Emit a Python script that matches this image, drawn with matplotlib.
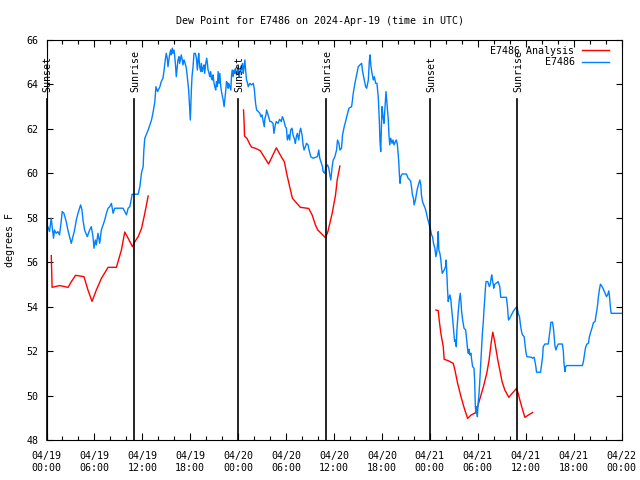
import matplotlib
matplotlib.use("Agg")
import matplotlib.pyplot as plt
import matplotlib.transforms as mtransforms

# hours since 2024-04-19 00:00 UTC, dew point in degrees F
obs = [
    (0.17, 57.60), (0.38, 57.38), (0.59, 57.98), (0.71, 57.60), (0.88, 57.08), (1.00, 57.45),
    (1.21, 57.30), (1.42, 57.38), (1.63, 57.23), (1.84, 57.83), (1.97, 58.28), (2.18, 58.20),
    (2.47, 57.83), (2.68, 57.45), (2.89, 57.15), (3.10, 56.85), (3.31, 57.15), (3.52, 57.45),
    (3.73, 57.90), (3.94, 58.20), (4.27, 58.58), (4.44, 58.35), (4.57, 57.90), (4.77, 57.45),
    (5.11, 57.15), (5.40, 57.45), (5.61, 57.60), (5.82, 57.15), (5.95, 56.63), (6.12, 57.00),
    (6.24, 56.78), (6.45, 57.30), (6.66, 56.85), (6.87, 57.45), (7.08, 57.68), (7.29, 57.90),
    (7.50, 58.20), (7.71, 58.43), (7.92, 58.50), (8.13, 58.65), (8.34, 58.20), (8.54, 58.43),
    (8.96, 58.43), (9.59, 58.43), (9.80, 58.28), (10.01, 58.13), (10.22, 58.43), (10.43, 58.50),
    (10.64, 58.88), (10.72, 59.06), (11.48, 59.06), (11.69, 59.40), (11.90, 60.03), (12.10, 60.30),
    (12.19, 61.05), (12.31, 61.58), (12.73, 61.95), (13.15, 62.40), (13.36, 62.78), (13.57, 63.23),
    (13.70, 63.90), (13.91, 63.68), (14.20, 63.90),
    (14.37, 64.13), (14.58, 64.28), (14.70, 64.58), (14.87, 65.10), (15.00, 65.40), (15.12, 65.18),
    (15.21, 64.80), (15.33, 65.10), (15.41, 65.33), (15.54, 65.55), (15.62, 65.33), (15.75, 65.63),
    (15.83, 65.40), (15.96, 65.55), (16.04, 65.33), (16.17, 64.80), (16.25, 64.35), (16.38, 64.80),
    (16.46, 65.10), (16.59, 65.25), (16.67, 64.95), (16.80, 65.18), (16.88, 65.33), (17.00, 65.10),
    (17.09, 64.88), (17.21, 65.10), (17.30, 65.03), (17.51, 64.73), (17.63, 64.35), (17.80, 63.75),
    (17.93, 62.93), (18.01, 62.40), (18.14, 63.75), (18.22, 64.35), (18.35, 64.80), (18.47, 65.40),
    (18.64, 65.40), (18.77, 65.18), (18.89, 64.65), (18.98, 65.10), (19.06, 65.40), (19.18, 64.80),
    (19.31, 64.58), (19.39, 64.95), (19.52, 64.58), (19.60, 64.73), (19.73, 64.88), (19.81, 64.50),
    (19.94, 64.95), (20.06, 65.18), (20.15, 64.95), (20.23, 64.65), (20.36, 64.50), (20.44, 64.35),
    (20.56, 64.58), (20.65, 64.28), (20.77, 64.20), (20.86, 64.43), (20.98, 64.05), (21.07, 63.90),
    (21.19, 63.75), (21.28, 64.13), (21.40, 63.90), (21.49, 64.58), (21.61, 64.05), (21.70, 64.50),
    (21.82, 63.90), (21.91, 63.68), (22.03, 63.45), (22.12, 63.30), (22.24, 63.00), (22.33, 63.30),
    (22.41, 63.60), (22.54, 64.13), (22.66, 64.05), (22.75, 63.83), (22.83, 64.05), (22.96, 63.90),
    (23.08, 63.75), (23.16, 64.35), (23.25, 64.65), (23.37, 64.35), (23.50, 64.65), (23.58, 64.50),
    (23.67, 64.73), (23.79, 64.43), (23.92, 64.50), (24.00, 64.80), (24.13, 64.35), (24.21, 64.50),
    (24.34, 64.80), (24.42, 64.65), (24.55, 64.95), (24.63, 64.50), (24.72, 64.73), (24.84, 65.10),
    (24.93, 64.65), (25.05, 64.20), (25.18, 64.05), (25.26, 63.90), (25.47, 64.05), (25.68, 63.98),
    (25.89, 64.05), (26.01, 63.83), (26.10, 63.45), (26.18, 63.15), (26.31, 62.85), (26.52, 62.78),
    (26.72, 62.70), (26.85, 62.55), (26.97, 62.63), (27.10, 62.40), (27.27, 62.10), (27.35, 62.48),
    (27.48, 62.63), (27.56, 62.85), (27.69, 62.70), (27.86, 62.48), (27.98, 62.33),
    (28.15, 62.33), (28.36, 62.25), (28.48, 61.80), (28.65, 62.18), (28.78, 62.33), (28.99, 62.25),
    (29.19, 62.43), (29.40, 62.33), (29.53, 62.55), (29.70, 62.40), (29.91, 62.10), (30.04, 62.03),
    (30.16, 61.50), (30.33, 61.73), (30.45, 61.50), (30.57, 61.95), (30.74, 62.03), (30.87, 61.73),
    (31.08, 61.50), (31.16, 61.35), (31.29, 61.65), (31.41, 61.80), (31.58, 61.50), (31.71, 61.88),
    (31.83, 62.03), (32.00, 61.73), (32.13, 61.28), (32.25, 61.05), (32.42, 61.20), (32.55, 61.35),
    (32.75, 61.28), (32.88, 61.05), (33.09, 60.75), (33.38, 60.68), (33.67, 60.72), (33.93, 60.75),
    (34.09, 61.05), (34.22, 60.68), (34.43, 60.45), (34.56, 60.30), (34.64, 60.08), (34.85, 60.00),
    (34.98, 60.30), (35.19, 60.38), (35.35, 60.23), (35.48, 59.93), (35.60, 59.70), (35.77, 60.30),
    (35.90, 60.60), (36.11, 60.75), (36.32, 61.05), (36.44, 61.50), (36.61, 61.35), (36.74, 61.05),
    (36.94, 61.13), (37.07, 61.73), (37.28, 62.10), (37.45, 62.33), (37.70, 62.70), (37.87, 62.93),
    (38.20, 63.00), (38.29, 63.23), (38.41, 63.60), (38.62, 64.05), (38.83, 64.43), (39.04, 64.80),
    (39.25, 64.88), (39.46, 64.95), (39.58, 64.58), (39.79, 64.20), (39.96, 63.90), (40.09, 63.83),
    (40.30, 64.20), (40.42, 65.03), (40.51, 65.33), (40.63, 64.80), (40.80, 64.43), (40.92, 64.20),
    (41.05, 64.35), (41.22, 64.05), (41.38, 64.05), (41.55, 63.38), (41.68, 62.33), (41.76, 61.43),
    (41.85, 60.98), (41.93, 61.95), (42.01, 63.00), (42.14, 62.55), (42.26, 62.25), (42.39, 63.00),
    (42.51, 63.68),
    (42.80, 62.40), (42.88, 61.73), (42.98, 61.28), (43.10, 61.58), (43.27, 61.35), (43.39, 61.50),
    (43.52, 61.28), (43.69, 61.43), (43.81, 61.50), (43.94, 61.28), (44.02, 60.90), (44.11, 60.53),
    (44.19, 59.93), (44.27, 59.55), (44.36, 59.85), (44.53, 59.97), (45.07, 59.97), (45.28, 59.78),
    (45.49, 59.70), (45.61, 59.63), (45.70, 59.40), (45.82, 59.03), (45.95, 58.88), (46.03, 58.58),
    (46.20, 58.80), (46.33, 59.10), (46.45, 59.33), (46.62, 59.55), (46.75, 59.70), (46.87, 59.48),
    (46.95, 59.03), (47.08, 58.73), (47.29, 58.53), (47.46, 58.38), (47.58, 58.20), (47.71, 57.98),
    (47.88, 57.75), (48.05, 57.53), (48.21, 57.23), (48.34, 57.15), (48.46, 56.85), (48.63, 56.63),
    (48.76, 56.25), (48.88, 56.48), (48.97, 56.85), (49.05, 57.38), (49.13, 56.55), (49.26, 56.40),
    (49.38, 56.10), (49.47, 55.73), (49.55, 55.50), (49.68, 55.58), (49.80, 55.65), (49.97, 55.80),
    (50.05, 56.10), (50.14, 55.35), (50.22, 54.75), (50.30, 54.23), (50.39, 54.38), (50.51, 54.53),
    (50.64, 54.30), (50.72, 53.93), (50.85, 53.48), (50.97, 52.95), (51.10, 52.43), (51.23, 52.50),
    (51.31, 52.20), (51.39, 52.95), (51.48, 53.40), (51.56, 53.78), (51.69, 54.30), (51.81, 54.60),
    (51.90, 54.23), (51.98, 53.78), (52.11, 53.40), (52.28, 53.03), (52.49, 52.95), (52.61, 52.50),
    (52.74, 52.05), (52.82, 51.90), (52.90, 52.08), (53.03, 51.83), (53.15, 51.90), (53.24, 51.60),
    (53.36, 51.30), (53.53, 51.23), (53.61, 50.70), (53.70, 49.50), (53.78, 49.20), (53.87, 49.50),
    (53.95, 49.05), (54.03, 49.58), (54.16, 50.10), (54.24, 50.55), (54.33, 51.15), (54.41, 51.60),
    (54.50, 52.35), (54.58, 52.80), (54.71, 53.40), (54.79, 53.93), (54.87, 54.30), (54.96, 54.83),
    (55.04, 55.13), (55.25, 55.13), (55.38, 54.98), (55.46, 54.90), (55.59, 55.05), (55.67, 55.28),
    (55.75, 55.43), (55.84, 55.20), (55.92, 55.05), (56.00, 54.83), (56.09, 54.98), (56.26, 55.05),
    (56.42, 55.08),
    (56.55, 55.13), (56.76, 54.90), (56.88, 54.42), (57.59, 54.42), (57.72, 54.00), (57.85, 53.40),
    (58.01, 53.48), (58.22, 53.63), (58.43, 53.78), (58.73, 53.93), (58.93, 54.00), (59.06, 53.70),
    (59.23, 53.55), (59.35, 53.18), (59.48, 52.88), (59.60, 52.73), (59.81, 52.65), (59.90, 52.35),
    (60.02, 51.98), (60.15, 51.75), (60.74, 51.72), (60.86, 51.68), (61.07, 51.72), (61.15, 51.57),
    (61.28, 51.30), (61.36, 51.05), (61.87, 51.05), (61.99, 51.38), (62.12, 51.75), (62.20, 52.20),
    (62.41, 52.32), (62.83, 52.32), (62.95, 52.65), (63.08, 53.03), (63.16, 53.30), (63.37, 53.30),
    (63.50, 52.95), (63.58, 52.61), (63.67, 52.23), (63.79, 52.05), (63.92, 52.20), (64.09, 52.32),
    (64.59, 52.32), (64.72, 51.98), (64.80, 51.45), (64.92, 51.08), (65.01, 51.30), (65.13, 51.35),
    (67.10, 51.35), (67.23, 51.53), (67.35, 51.83), (67.48, 52.13), (67.65, 52.31), (67.86, 52.35),
    (67.98, 52.65), (68.19, 52.91), (68.36, 53.10), (68.48, 53.28), (68.69, 53.33), (68.82, 53.63),
    (68.95, 53.93), (69.03, 54.15), (69.11, 54.45), (69.24, 54.78), (69.36, 55.01), (69.53, 54.93),
    (69.74, 54.78), (69.95, 54.60), (70.12, 54.45), (70.29, 54.56), (70.41, 54.71), (70.50, 54.45),
    (70.62, 53.93), (70.71, 53.70), (72.00, 53.70),
]

analysis_day1 = [
    (0.60, 56.30), (0.70, 54.87), (1.65, 54.95), (2.70, 54.87), (3.10, 55.12), (3.64, 55.41),
    (4.69, 55.35), (5.19, 54.75), (5.70, 54.24), (6.24, 54.75), (6.87, 55.27), (7.71, 55.77),
    (8.75, 55.77), (9.38, 56.55), (9.80, 57.36), (10.22, 57.08), (10.77, 56.70), (11.06, 56.92),
    (11.48, 57.15), (11.90, 57.52), (12.31, 58.20), (12.73, 58.98),
]
analysis_day2 = [
    (24.67, 62.85), (24.75, 62.25), (24.79, 61.68), (25.09, 61.58), (25.51, 61.27), (25.72, 61.17),
    (26.14, 61.13), (26.77, 61.02), (27.18, 60.78), (27.81, 60.42), (28.78, 61.15), (29.28, 60.82),
    (29.78, 60.52), (30.12, 59.92), (30.45, 59.40), (30.79, 58.88), (31.17, 58.72), (31.79, 58.47),
    (32.84, 58.42), (33.26, 58.13), (33.68, 57.67), (33.97, 57.45), (34.39, 57.30), (34.93, 57.10),
    (35.23, 57.37), (35.77, 58.20), (36.19, 59.02), (36.40, 59.70), (36.74, 60.33),
]
analysis_day3 = [
    (48.76, 53.85), (49.05, 53.82), (49.17, 53.40), (49.38, 52.80), (49.68, 52.20), (49.80, 51.63),
    (50.30, 51.57), (50.93, 51.45), (51.14, 51.15), (51.48, 50.55), (51.90, 49.95), (52.32, 49.42),
    (52.73, 48.97), (53.15, 49.12), (53.57, 49.20), (53.87, 49.27), (53.99, 49.50), (54.29, 49.88),
    (54.71, 50.40), (55.13, 51.00), (55.42, 51.60), (55.67, 52.35), (55.88, 52.85), (56.09, 52.50),
    (56.30, 52.05), (56.51, 51.60), (56.76, 51.15), (57.05, 50.62), (57.39, 50.25), (57.89, 49.92),
    (58.31, 50.10), (58.85, 50.32), (59.06, 50.10), (59.27, 49.80), (59.57, 49.42), (59.90, 49.02),
    (60.32, 49.12), (60.87, 49.24),
]

sunsets = [0.0, 24.02, 48.06]
sunrises = [10.99, 34.96, 58.95]

tick_hours = list(range(0, 73, 6))
tick_labels = ["04/19\n00:00", "04/19\n06:00", "04/19\n12:00", "04/19\n18:00",
               "04/20\n00:00", "04/20\n06:00", "04/20\n12:00", "04/20\n18:00",
               "04/21\n00:00", "04/21\n06:00", "04/21\n12:00", "04/21\n18:00",
               "04/22\n00:00"]

plt.rcParams['font.family'] = ['DejaVu Sans Mono']
plt.rcParams['font.size'] = 7.2

fig = plt.figure(figsize=(6.4, 4.8), dpi=100)
ax = fig.add_axes([46.5 / 640, 40 / 480, 575 / 640, 400 / 480])

red = '#ff0000'
blue = '#0080ff'

for i, seg in enumerate([analysis_day1, analysis_day2, analysis_day3]):
    xs, ys = zip(*seg)
    ax.plot(xs, ys, color=red, lw=1.0, label='E7486 Analysis' if i == 0 else None)

xs, ys = zip(*obs)
ax.plot(xs, ys, color=blue, lw=1.0, label='E7486')

trans = mtransforms.blended_transform_factory(ax.transData, ax.transAxes)
for name, times in [('Sunset', sunsets), ('Sunrise', sunrises)]:
    for t in times:
        ax.plot([t, t], [0, 0.8525], color='black', lw=1.2, transform=trans, clip_on=False)
        ax.text(t + 0.15, 0.87, name, rotation=90, ha='center', va='bottom', transform=trans)

ax.set_xlim(0, 72)
ax.set_ylim(48, 66)
ax.set_xticks(tick_hours)
ax.set_xticklabels(tick_labels)
ax.set_xticks(range(0, 73, 2), minor=True)
ax.set_yticks(range(48, 67, 2))
ax.tick_params(direction='in', top=True, right=True, which='both', width=0.8)
ax.tick_params(axis='x', which='major', length=5, pad=8)
ax.tick_params(axis='x', which='minor', length=3)
ax.tick_params(axis='y', length=4, pad=6)
for s in ax.spines.values():
    s.set_linewidth(0.8)

ax.set_ylabel('degrees F', labelpad=8)
fig.text(0.5, 1 - 21 / 480, 'Dew Point for E7486 on 2024-Apr-19 (time in UTC)', ha='center', va='center')

leg = ax.legend(loc='upper right', bbox_to_anchor=(1 - 7 / 575, 1), frameon=False, markerfirst=False,
                handlelength=2.7, handletextpad=0.7, labelspacing=0.15, borderaxespad=0.2)

fig.savefig('out.png', dpi=100)
